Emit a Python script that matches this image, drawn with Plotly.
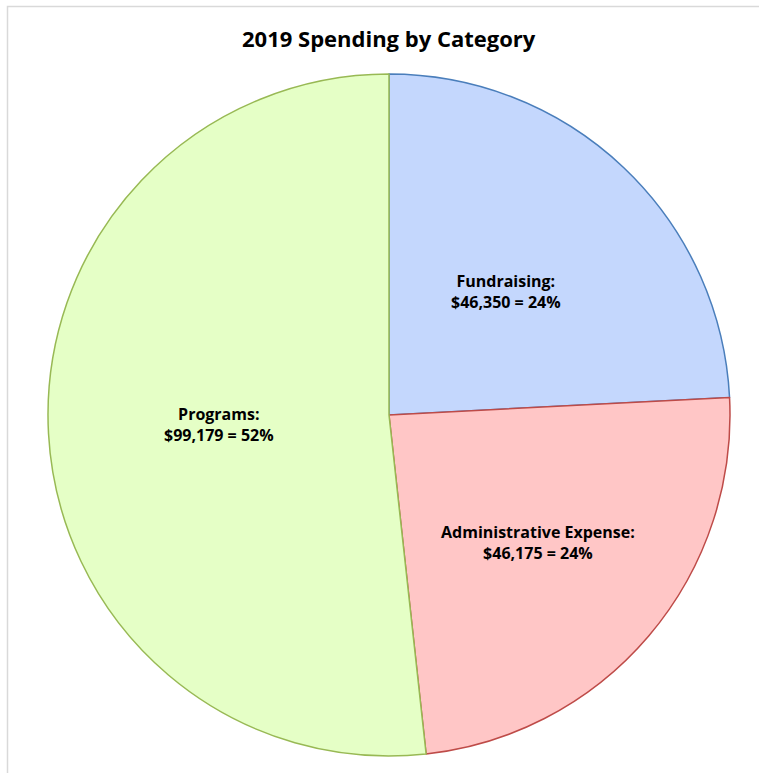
import math
import plotly.graph_objects as go

categories = ["Fundraising", "Administrative Expense", "Programs"]
values = [46350, 46175, 99179]
percent_labels = ["24%", "24%", "52%"]
fill_colors = ["#c4d7fd", "#ffc6c6", "#e5ffc6"]
line_colors = ["#4a7ebb", "#be4b48", "#98b954"]
label_radius = [0.50, 0.575, 0.50]

W, H = 759, 773
cx, cy, R = 389, 415, 341

fig = go.Figure()
fig.add_trace(go.Pie(
    labels=categories,
    values=values,
    sort=False,
    direction="clockwise",
    rotation=0,
    textinfo="none",
    hoverinfo="label+value+percent",
    marker=dict(colors=fill_colors, line=dict(color=line_colors, width=1.5)),
    domain=dict(x=[(cx - R) / W, (cx + R) / W], y=[1 - (cy + R) / H, 1 - (cy - R) / H]),
    showlegend=False,
))

total = sum(values)
cum = 0
annotations = []
for cat, v, p, rf in zip(categories, values, percent_labels, label_radius):
    mid = (cum + v / 2) / total * 2 * math.pi
    cum += v
    px = cx + rf * R * math.sin(mid)
    py = cy - rf * R * math.cos(mid)
    annotations.append(dict(
        x=px / W, y=1 - py / H, xref="paper", yref="paper",
        xanchor="center", yanchor="middle",
        text=f"{cat}:<br>${v:,} = {p}",
        showarrow=False, align="center",
        font=dict(family="Open Sans, Arial", size=16, color="#000000", weight="bold"),
    ))

annotations.append(dict(
    x=389 / W, y=1 - 38 / H, xref="paper", yref="paper",
    xanchor="center", yanchor="middle",
    text="<b>2019 Spending by Category</b>", showarrow=False,
    font=dict(family="Open Sans, Arial", size=22, color="#000000"),
))

fig.update_layout(
    width=W, height=H,
    margin=dict(l=0, r=0, t=0, b=0),
    paper_bgcolor="white",
    plot_bgcolor="white",
    annotations=annotations,
    shapes=[dict(type="rect", xref="paper", yref="paper",
                 x0=7.5 / W, x1=1.05, y0=-0.05, y1=1 - 6.5 / H,
                 line=dict(color="#d9d9d9", width=1.5), fillcolor="rgba(0,0,0,0)", layer="below")],
)

fig.write_html("out.html", config={"displayModeBar": False},
               post_script="document.body.style.margin='0';")
